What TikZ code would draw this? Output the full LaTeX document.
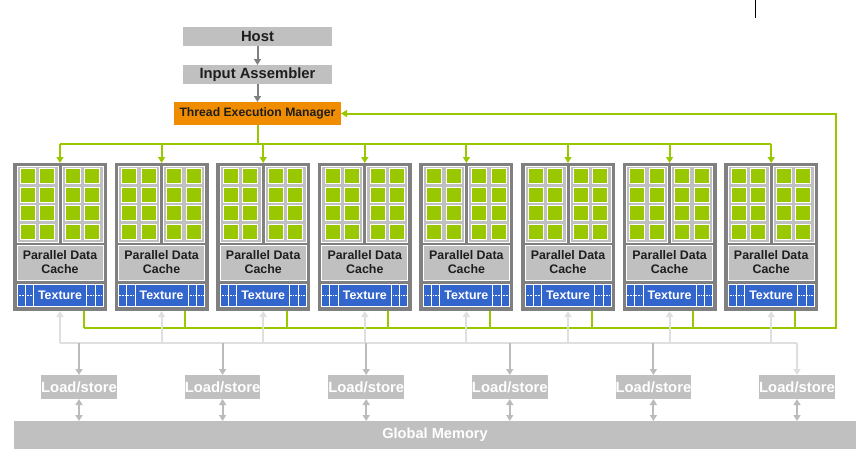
\documentclass[tikz,border=0pt]{standalone}
\usepackage{fontspec}
\setmainfont{Liberation Sans}
\usetikzlibrary{arrows.meta}

\definecolor{boxgray}{HTML}{C0C0C0}
\definecolor{tpcgray}{HTML}{808080}
\definecolor{nvgreen}{HTML}{99C800}
\definecolor{temorange}{HTML}{F08C00}
\definecolor{texblue}{HTML}{3366CC}
\definecolor{wiregray}{HTML}{BBBBBB}
\definecolor{palegray}{HTML}{DFDFDF}
\definecolor{inkgray}{HTML}{1E1E1E}

\begin{document}
\begin{tikzpicture}[x=1pt,y=-1pt]
   \tikzstyle{every node}=[inner sep=0pt, outer sep=0pt]
   \tikzstyle{graybox}=[fill=boxgray, text=inkgray, minimum width=149pt, minimum height=19pt, font=\fontsize{14.8}{16}\selectfont\bfseries]
   \tikzstyle{tembox}=[fill=temorange, text=inkgray, minimum width=167pt, minimum height=23pt, font=\fontsize{12.2}{14}\selectfont\bfseries]
   \tikzstyle{tpcbox}=[fill=tpcgray, minimum width=94pt, minimum height=148pt]
   \tikzstyle{smbox}=[fill=boxgray, draw=white, line width=1pt, minimum width=41pt, minimum height=76pt]
   \tikzstyle{cachebox}=[fill=boxgray, draw=white, line width=1pt, minimum width=86pt, minimum height=35pt, align=center, text=inkgray, font=\fontsize{12.4}{14}\selectfont\bfseries]
   \tikzstyle{bandbox}=[fill=texblue, draw=white, line width=1pt, minimum width=86pt, minimum height=22pt]
   \tikzstyle{texbox}=[fill=texblue, draw=white, line width=1pt, minimum width=53pt, minimum height=22pt, text=white, font=\fontsize{12.4}{14}\selectfont\bfseries]
   \tikzstyle{lsbox}=[fill=boxgray, text=white, minimum width=73pt, minimum height=24pt, font=\fontsize{14.8}{16}\selectfont\bfseries]
   \tikzstyle{memorybox}=[fill=boxgray, text=white, minimum width=842pt, minimum height=28pt, font=\fontsize{14.6}{16}\selectfont\bfseries]
   \tikzstyle{tip}=[-{Triangle[length=6pt,width=7pt]}]
   \tikzstyle{greenwire}=[draw=nvgreen, line width=2pt]
   \tikzstyle{graywire}=[draw=wiregray, line width=2pt]
   \tikzstyle{palewire}=[draw=palegray, line width=2pt]

\useasboundingbox (0,0) rectangle (865,461);
\draw[black, line width=1pt] (755,0) -- (755,18);

% front end
\node[graybox] (host) at (257.5,36.5) {Host};
\node[graybox] (ia) at (257.5,74.5) {Input Assembler};
\node[tembox] (tem) at (257.5,113.5) {Thread Execution Manager};
\draw[draw=tpcgray, line width=2pt, tip] (host.south) -- (ia.north);
\draw[draw=tpcgray, line width=2pt, tip] (ia.south) -- (tem.north);

% thread processor clusters
\foreach \i in {0,...,7} {
   \pgfmathsetmacro{\cx}{60+101.6*\i}
   \node[tpcbox] (tpc\i) at (\cx,237) {};
   \node[smbox] (sma\i) at ({\cx-22.5},204) {};
   \node[smbox] (smb\i) at ({\cx+22.5},204) {};
   \foreach \s in {-22.5,22.5}
      \foreach \c in {-9.75,9.75}
         \foreach \r in {-27.75,-9.25,9.25,27.75}
            \filldraw[fill=nvgreen, draw=white, line width=1pt] ({\cx+\s+\c-7.5},{204+\r-7.5}) rectangle ++(15,15);
   \node[cachebox] (cache\i) at (\cx,262.5) {Parallel Data\\Cache};
   \node[bandbox] (band\i) at (\cx,295) {};
   \draw[white, line width=1pt] ({\cx-35},284) -- ({\cx-35},306);
   \draw[white, line width=1pt] ({\cx+35},284) -- ({\cx+35},306);
   \draw[white, densely dotted, line width=0.6pt] (band\i.west) -- ({\cx-26.5},295);
   \draw[white, densely dotted, line width=0.6pt] ({\cx+26.5},295) -- (band\i.east);
   \node[texbox] (tex\i) at (\cx,295) {Texture};
}

% dispatch from the thread execution manager
\coordinate (busl) at (60,144);
\coordinate (busr) at (771.2,144);
\draw[greenwire] (tem.south) -- (tem.south |- busl);
\draw[greenwire] (busl) -- (busr);
\foreach \i in {0,...,7}
   \draw[greenwire, tip] (tpc\i.north |- busl) -- (tpc\i.north);

% feedback to the thread execution manager
\coordinate (loopl) at (83.5,328);
\coordinate (loopr) at (836,328);
\draw[palewire] (60,343) -- (797,343);
\foreach \i in {0,...,7}
   \draw[greenwire] ([xshift=23.5pt]tpc\i.south) -- ([xshift=23.5pt]tpc\i.south |- loopl);
\draw[greenwire, tip] (loopl) -- (loopr) |- (tem.east);

% memory side
\node[memorybox] (gmem) at (435,435) {Global Memory};
\coordinate (memr) at (797,343);
\foreach \j in {1,...,6} {
   \pgfmathsetmacro{\lx}{79+143.6*(\j-1)}
   \node[lsbox] (ls\j) at (\lx,387) {Load/store};
   \draw[graywire, {Triangle[length=6pt,width=7pt]}-{Triangle[length=6pt,width=7pt]}] (ls\j.south) -- (ls\j.south |- gmem.north);
}
\foreach \j in {1,...,5}
   \draw[graywire, tip] (ls\j.north |- memr) -- (ls\j.north);
\draw[palewire, tip] (memr) -- (ls6.north);
\foreach \i in {0,...,7}
   \draw[palewire, tip] (tpc\i.south |- memr) -- (tpc\i.south);

\end{tikzpicture}
\end{document}
